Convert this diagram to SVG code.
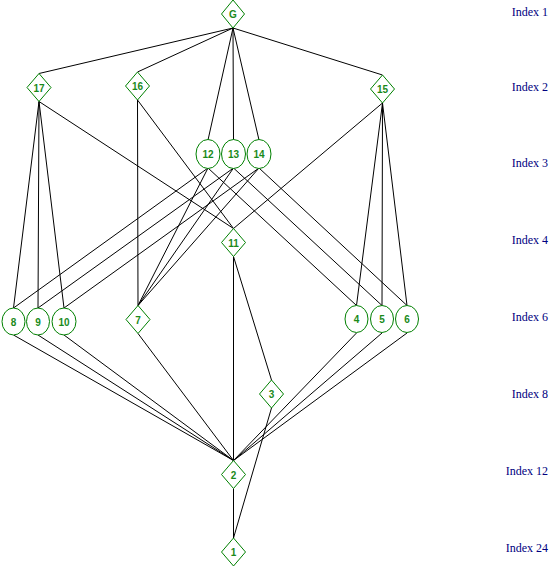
<svg xmlns="http://www.w3.org/2000/svg" width="550" height="567" viewBox="0 0 550 567">
<style>
.n{fill:#fff;stroke:#008000;stroke-width:1}
.t{font-family:"Liberation Sans",Arial,sans-serif;font-size:10px;font-weight:bold;fill:#1a8a1a;text-anchor:middle}
.e line{stroke:#000;stroke-width:1}
.ix{font-family:"Liberation Serif","Times New Roman",serif;font-size:12px;fill:#000080;text-anchor:end}
</style>
<rect width="550" height="567" fill="#fff"/>
<g class="e" id="connectors">
<line x1="233" y1="28" x2="39" y2="73.5"/>
<line x1="233" y1="28" x2="137.5" y2="72"/>
<line x1="233" y1="28" x2="382.5" y2="75"/>
<line x1="233" y1="28" x2="208" y2="140"/>
<line x1="233" y1="28" x2="233.5" y2="140"/>
<line x1="233" y1="28" x2="259" y2="140"/>
<line x1="39" y1="101.5" x2="13.5" y2="308"/>
<line x1="39" y1="101.5" x2="38" y2="308"/>
<line x1="39" y1="101.5" x2="64" y2="308"/>
<line x1="39" y1="101.5" x2="233.5" y2="228.5"/>
<line x1="137.5" y1="100" x2="138" y2="305.5"/>
<line x1="137.5" y1="100" x2="233.5" y2="228.5"/>
<line x1="382.5" y1="103" x2="356.5" y2="305.5"/>
<line x1="382.5" y1="103" x2="382" y2="305.5"/>
<line x1="382.5" y1="103" x2="407" y2="305.5"/>
<line x1="382.5" y1="103" x2="233.5" y2="228.5"/>
<line x1="208" y1="168" x2="13.5" y2="308"/>
<line x1="208" y1="168" x2="138" y2="305.5"/>
<line x1="208" y1="168" x2="356.5" y2="305.5"/>
<line x1="233.5" y1="168" x2="38" y2="308"/>
<line x1="233.5" y1="168" x2="138" y2="305.5"/>
<line x1="233.5" y1="168" x2="382" y2="305.5"/>
<line x1="259" y1="168" x2="64" y2="308"/>
<line x1="259" y1="168" x2="138" y2="305.5"/>
<line x1="259" y1="168" x2="407" y2="305.5"/>
<line x1="233.5" y1="256.5" x2="233.5" y2="460.5"/>
<line x1="233.5" y1="256.5" x2="271.5" y2="380"/>
<line x1="13.5" y1="335" x2="233.5" y2="460.5"/>
<line x1="38" y1="335" x2="233.5" y2="460.5"/>
<line x1="64" y1="335" x2="233.5" y2="460.5"/>
<line x1="138" y1="333.5" x2="233.5" y2="460.5"/>
<line x1="356.5" y1="333" x2="233.5" y2="460.5"/>
<line x1="382" y1="333" x2="233.5" y2="460.5"/>
<line x1="407" y1="333" x2="233.5" y2="460.5"/>
<line x1="271.5" y1="408" x2="233.5" y2="538"/>
<line x1="233.5" y1="488.5" x2="233.5" y2="538"/>
</g>
<g id="nG"><polygon class="n" points="233,0 244.5,14 233,28 221.5,14"/><text class="t" x="233" y="18">G</text></g>
<g id="n17"><polygon class="n" points="39,73.5 51,87.5 39,101.5 27,87.5"/><text class="t" x="39" y="91.5">17</text></g>
<g id="n16"><polygon class="n" points="137.5,72 149.5,86 137.5,100 125.5,86"/><text class="t" x="137.5" y="90">16</text></g>
<g id="n15"><polygon class="n" points="382.5,75 394.5,89 382.5,103 370.5,89"/><text class="t" x="382.5" y="93">15</text></g>
<g id="n12"><ellipse class="n" cx="208" cy="154" rx="12" ry="14.5"/><text class="t" x="208" y="158">12</text></g>
<g id="n13"><ellipse class="n" cx="233.5" cy="154" rx="12" ry="14.5"/><text class="t" x="233.5" y="158">13</text></g>
<g id="n14"><ellipse class="n" cx="259" cy="154" rx="12" ry="14.5"/><text class="t" x="259" y="158">14</text></g>
<g id="n11"><polygon class="n" points="233.5,228.5 245.5,242.5 233.5,256.5 221.5,242.5"/><text class="t" x="233.5" y="246.5">11</text></g>
<g id="n8"><ellipse class="n" cx="13.5" cy="321.5" rx="11.5" ry="13.5"/><text class="t" x="13.5" y="325.5">8</text></g>
<g id="n9"><ellipse class="n" cx="38" cy="321.5" rx="11.5" ry="13.5"/><text class="t" x="38" y="325.5">9</text></g>
<g id="n10"><ellipse class="n" cx="64" cy="321.5" rx="12" ry="13.5"/><text class="t" x="64" y="325.5">10</text></g>
<g id="n7"><polygon class="n" points="138,305.5 150,319.5 138,333.5 126,319.5"/><text class="t" x="138" y="323.5">7</text></g>
<g id="n4"><ellipse class="n" cx="356.5" cy="319" rx="11.5" ry="13.5"/><text class="t" x="356.5" y="323">4</text></g>
<g id="n5"><ellipse class="n" cx="382" cy="319" rx="11.5" ry="13.5"/><text class="t" x="382" y="323">5</text></g>
<g id="n6"><ellipse class="n" cx="407" cy="319" rx="11.5" ry="13.5"/><text class="t" x="407" y="323">6</text></g>
<g id="n3"><polygon class="n" points="271.5,380 283.5,394 271.5,408 259.5,394"/><text class="t" x="271.5" y="398">3</text></g>
<g id="n2"><polygon class="n" points="233.5,460.5 245.5,474.5 233.5,488.5 221.5,474.5"/><text class="t" x="233.5" y="478.5">2</text></g>
<g id="n1"><polygon class="n" points="233.5,538 245.5,552 233.5,566 221.5,552"/><text class="t" x="233.5" y="556">1</text></g>
<g id="index-labels">
<text class="ix" x="548" y="16">Index 1</text>
<text class="ix" x="548" y="91">Index 2</text>
<text class="ix" x="548" y="167">Index 3</text>
<text class="ix" x="548" y="244">Index 4</text>
<text class="ix" x="548" y="321">Index 6</text>
<text class="ix" x="548" y="398">Index 8</text>
<text class="ix" x="548" y="475">Index 12</text>
<text class="ix" x="548" y="552">Index 24</text>
</g>
</svg>
